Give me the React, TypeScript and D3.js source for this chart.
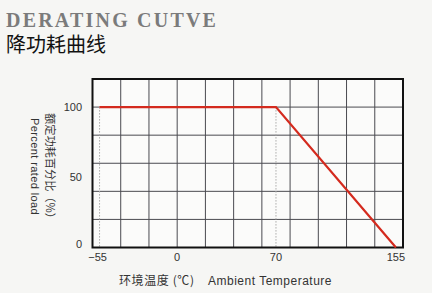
import React from "react";
import * as d3 from "d3";

const xTicks = [-55, 0, 70, 155];
const yTicks = [0, 50, 100];
const curveTemp = [-55, 70, 155];
const curveLoad = [100, 100, 0];
const dottedTemps = [-55, 70];
const xGrid = d3.range(-60, 161, 20);
const yGrid = d3.range(0, 121, 20);

const W = 432;
const H = 293;

export default function App() {
  const x = d3.scaleLinear().domain([-60, 160]).range([92.5, 403]);
  const y = d3.scaleLinear().domain([0, 120]).range([247.5, 79]);
  const pts: [number, number][] = curveTemp.map((t, i) => [t, curveLoad[i]]);
  const line = d3
    .line<[number, number]>()
    .x((d) => x(d[0]))
    .y((d) => y(d[1]));
  const cjk = "'Noto Sans CJK SC', sans-serif";
  const sans = "'Liberation Sans', Arial, sans-serif";
  return (
    <svg
      width={W}
      height={H}
      style={{ position: "absolute", left: 0, top: 0, display: "block" }}
    >
      <rect x={0} y={0} width={W} height={H} fill="#f6f6f4" />
      <text
        x={6}
        y={27}
        fontFamily="'Liberation Serif', 'Times New Roman', serif"
        fontWeight="bold"
        fontSize={20}
        letterSpacing={2.2}
        fill="#7b7b7b"
      >
        DERATING CUTVE
      </text>
      <text x={6} y={52} fontFamily={cjk} fontSize={20} fill="#111">
        降功耗曲线
      </text>
      <rect
        x={x(-60)}
        y={y(120)}
        width={x(160) - x(-60)}
        height={y(0) - y(120)}
        fill="#fbfbfa"
      />
      {xGrid.map((g) => (
        <line
          key={"xg" + g}
          x1={x(g)}
          x2={x(g)}
          y1={y(0)}
          y2={y(120)}
          stroke="#4a4a50"
          strokeWidth={1}
        />
      ))}
      {yGrid.map((g) => (
        <line
          key={"yg" + g}
          x1={x(-60)}
          x2={x(160)}
          y1={y(g)}
          y2={y(g)}
          stroke="#4a4a50"
          strokeWidth={1}
        />
      ))}
      {dottedTemps.map((t) => (
        <line
          key={"d" + t}
          x1={x(t)}
          x2={x(t)}
          y1={y(100)}
          y2={y(0)}
          stroke="#aaaaaa"
          strokeWidth={1}
          strokeDasharray="1.5,1.5"
        />
      ))}
      <rect
        x={x(-60)}
        y={y(120)}
        width={x(160) - x(-60)}
        height={y(0) - y(120)}
        fill="none"
        stroke="#111"
        strokeWidth={2}
      />
      <path
        d={line(pts) || ""}
        fill="none"
        stroke="#d42a1e"
        strokeWidth={2.2}
      />
      {yTicks.map((t) => (
        <text
          key={"yt" + t}
          x={82}
          y={y(t) + (t === 0 ? -3 : 0)}
          dy="0.35em"
          textAnchor="end"
          fontFamily={sans}
          fontSize={11}
          fill="#333"
        >
          {t}
        </text>
      ))}
      {xTicks.map((t) => (
        <text
          key={"xt" + t}
          x={x(t) - (t === -55 ? 2 : 0)}
          y={257}
          dy="0.35em"
          textAnchor="middle"
          fontFamily={sans}
          fontSize={11}
          fill="#333"
        >
          {t < 0 ? "−" + Math.abs(t) : t}
        </text>
      ))}
      <text
        x={119}
        y={285}
        fontFamily={cjk}
        fontSize={12}
        letterSpacing={0.6}
        fill="#333"
      >
        环境温度 (℃)
      </text>
      <text
        x={208}
        y={285}
        fontFamily={sans}
        fontSize={12}
        letterSpacing={0.5}
        fill="#333"
      >
        Ambient Temperature
      </text>
      <g transform="translate(50,113) rotate(90)">
        <text x={0} y={0} dy="0.35em" fontFamily={cjk} fontSize={11.2} fill="#333">
          额定功耗百分比（%）
        </text>
      </g>
      <g transform="translate(35,118) rotate(90)">
        <text
          x={0}
          y={0}
          dy="0.35em"
          fontFamily={sans}
          fontSize={11}
          letterSpacing={0.4}
          fill="#333"
        >
          Percent rated load
        </text>
      </g>
    </svg>
  );
}
